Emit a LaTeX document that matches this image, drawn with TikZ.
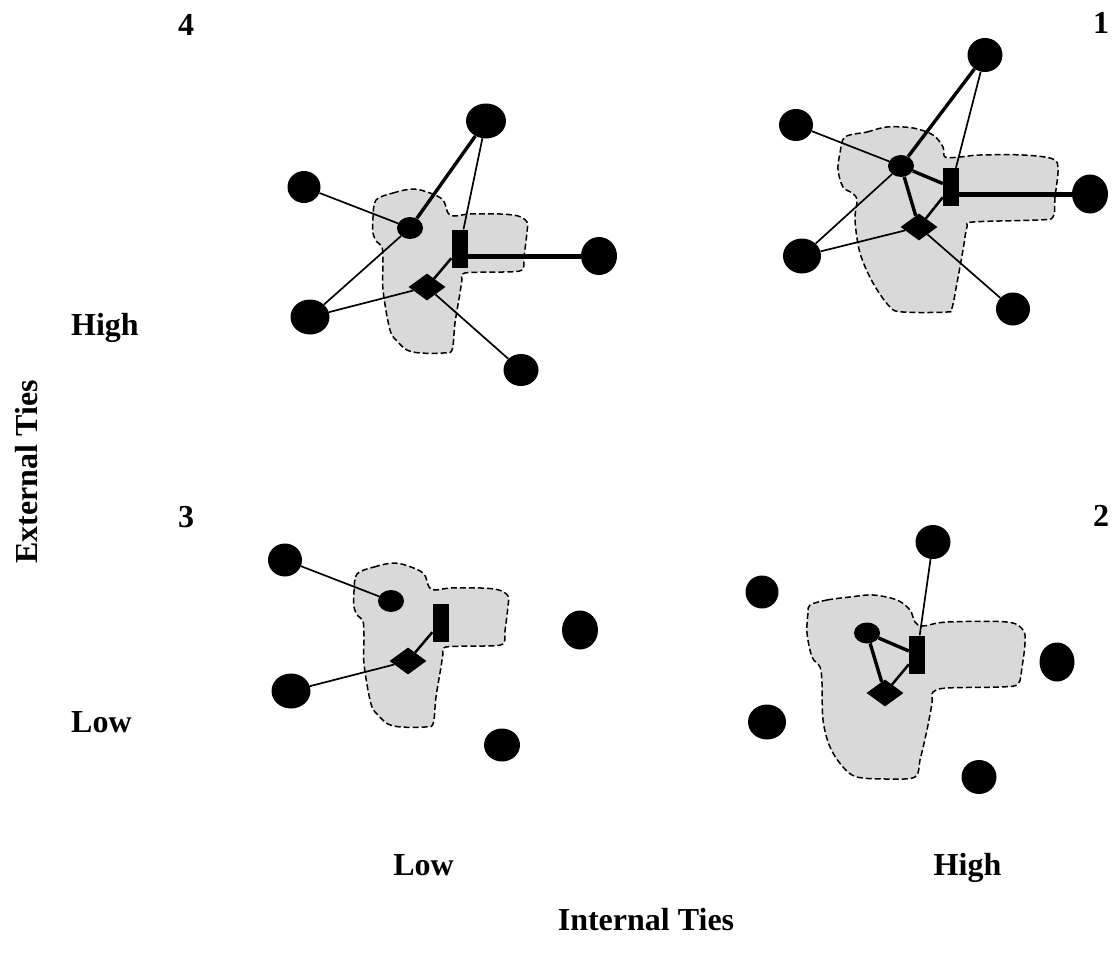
\documentclass[tikz,border=0pt]{standalone}
\usepackage{fontspec}
\setmainfont{Liberation Serif}
\usetikzlibrary{shapes.geometric}
\definecolor{unitgray}{RGB}{217,217,217}
\tikzset{
  lbl/.style={font=\bfseries\fontsize{32}{38}\selectfont, inner sep=0pt, anchor=base},
  actor/.style={ellipse, fill=black, draw=none, inner sep=0pt, minimum width=36pt, minimum height=34pt},
  member/.style={ellipse, fill=black, draw=none, inner sep=0pt, minimum width=26pt, minimum height=22pt},
  lead/.style={rectangle, fill=black, draw=none, inner sep=0pt, minimum width=16pt, minimum height=38pt},
  broker/.style={diamond, fill=black, draw=none, inner sep=0pt, minimum width=37pt, minimum height=27pt},
  unit/.style={fill=unitgray, draw=black, line width=1.5pt, dash pattern=on 6pt off 3pt},
  weak/.style={line width=1.7pt},
  mid/.style={line width=2.5pt},
  strong/.style={line width=3.4pt},
  heavy/.style={line width=5pt}
}
\begin{document}
\begin{tikzpicture}[x=1pt,y=-1pt]
\useasboundingbox (0,0) rectangle (1112,966);

% ---------- team boundaries ----------
% quadrant 4 (upper left)
\draw[unit] plot[smooth cycle, tension=0.55] coordinates {
  (376,200) (393,193) (413,189) (430,193) (443,200) (448,213) (454,216)
  (470,214) (500,214) (518,216) (527,222) (527,232) (524,257) (522,270)
  (503,272) (465,273) (462,280) (460,293) (455,323) (452,350) (443,353)
  (420,353) (407,350) (398,342) (390,330) (383,290) (383,263) (382,247)
  (377,242) (373,233) (373,217)};
% quadrant 3 (lower left)
\begin{scope}[shift={(-19,374)}]
\draw[unit] plot[smooth cycle, tension=0.55] coordinates {
  (376,200) (393,193) (413,189) (430,193) (443,200) (448,213) (454,216)
  (470,214) (500,214) (518,216) (527,222) (527,232) (524,257) (522,270)
  (503,272) (465,273) (462,280) (460,293) (455,323) (452,350) (443,353)
  (420,353) (407,350) (398,342) (390,330) (383,290) (383,263) (382,247)
  (377,242) (373,233) (373,217)};
\end{scope}
% quadrant 1 (upper right)
\draw[unit] plot[smooth cycle, tension=0.55] coordinates {
  (845,137) (867,132) (887,127) (913,128) (933,135) (943,147) (945,157)
  (960,157) (980,155) (1023,155) (1053,159) (1058,170) (1055,197)
  (1053,217) (1038,220) (973,222) (967,227) (963,250) (957,283)
  (952,308) (947,312) (903,312) (890,307) (873,283) (860,253) (855,220)
  (857,200) (852,193) (843,187) (838,170) (840,153)};
% quadrant 2 (lower right)
\draw[unit] plot[smooth cycle, tension=0.55] coordinates {
  (810,605) (827,600) (850,597) (873,595) (897,600) (910,610) (915,622)
  (923,626) (947,622) (1007,622) (1023,630) (1025,643) (1022,667)
  (1018,684) (1000,687) (947,688) (933,692) (932,703) (927,730)
  (920,760) (915,777) (887,779) (857,777) (843,767) (830,747) (823,720)
  (822,683) (820,667) (812,657) (807,633) (808,613)};

% ---------- quadrant 4 ----------
\node[actor, minimum width=40pt, minimum height=35pt] (t4) at (486,121) {};
\node[actor, minimum width=33pt, minimum height=32pt] (l4) at (304,187) {};
\node[member] (m4) at (410,228) {};
\node[lead] (r4) at (459.5,248.5) {};
\node[actor, minimum height=38pt] (e4) at (599,256) {};
\node[broker] (d4) at (427,287) {};
\node[actor, minimum width=39pt, minimum height=35pt] (bl4) at (310,317) {};
\node[actor, minimum width=35pt, minimum height=32pt] (br4) at (521,370) {};
\draw[strong] (t4) -- (m4);
\draw[weak] (t4) -- (r4);
\draw[weak] (l4) -- (m4);
\draw[weak] (m4) -- (bl4);
\draw[weak] (bl4) -- (d4);
\draw[weak] (d4) -- (br4);
\draw[mid] (d4) -- (r4);
\draw[heavy] (r4.east |- e4.center) -- (e4);

% ---------- quadrant 3 ----------
\node[actor, minimum width=34pt, minimum height=33pt] (tl3) at (285,560) {};
\node[member] (m3) at (391,601) {};
\node[lead] (r3) at (440.5,622.5) {};
\node[actor, minimum height=39pt] (e3) at (580,630) {};
\node[broker] (d3) at (408,661) {};
\node[actor, minimum width=39pt, minimum height=35pt] (bl3) at (291,691) {};
\node[actor, minimum width=36pt, minimum height=33pt] (b3) at (502,745) {};
\draw[weak] (tl3) -- (m3);
\draw[weak] (bl3) -- (d3);
\draw[mid] (d3) -- (r3);

% ---------- quadrant 1 ----------
\node[actor, minimum width=35pt] (t1) at (985,55) {};
\node[actor, minimum width=34pt, minimum height=32pt] (l1) at (796,125) {};
\node[member] (m1) at (901,166) {};
\node[lead] (r1) at (951,187) {};
\node[actor, minimum height=39pt] (e1) at (1090,194) {};
\node[broker] (d1) at (919,227) {};
\node[actor, minimum width=38pt, minimum height=35pt] (bl1) at (802,256) {};
\node[actor, minimum width=34pt, minimum height=33pt] (br1) at (1013,309) {};
\draw[strong] (t1) -- (m1);
\draw[weak] (t1) -- (r1);
\draw[weak] (l1) -- (m1);
\draw[weak] (m1) -- (bl1);
\draw[weak] (bl1) -- (d1);
\draw[weak] (d1) -- (br1);
\draw[strong] (m1) -- (r1);
\draw[strong] (m1) -- (d1);
\draw[mid] (d1) -- (r1);
\draw[heavy] (r1.east |- e1.center) -- (e1);

% ---------- quadrant 2 ----------
\node[actor, minimum width=35pt] (t2) at (933,542) {};
\node[actor, minimum width=33pt, minimum height=33pt] (l2) at (762,592) {};
\node[member, minimum height=21pt] (m2) at (867,633) {};
\node[lead] (r2) at (917,654.5) {};
\node[actor, minimum width=35pt, minimum height=39pt] (e2) at (1057,662) {};
\node[broker] (d2) at (885,693) {};
\node[actor, minimum width=38pt, minimum height=35pt] (bl2) at (767,722) {};
\node[actor, minimum width=35pt] (b2) at (979,777) {};
\draw[weak] (t2) -- (r2);
\draw[strong] (m2) -- (r2);
\draw[strong] (m2) -- (d2);
\draw[mid] (d2) -- (r2);

% ---------- labels ----------
\node[lbl] (n4) at (186,36) {4};
\node[lbl] (n1) at (1101,34) {1};
\node[lbl] (n3) at (186,527) {3};
\node[lbl] (n2) at (1101,526) {2};
\node[lbl, anchor=base west] (yhigh) at (71,335) {High};
\node[lbl, anchor=base west] (ylow) at (71,732) {Low};
\node[lbl, rotate=90] (ylab) at (37.5,472) {External Ties};
\node[lbl] (xlow) at (423.5,875) {Low};
\node[lbl] (xhigh) at (967.5,875) {High};
\node[lbl] (xlab) at (646,930) {Internal Ties};
\end{tikzpicture}
\end{document}
